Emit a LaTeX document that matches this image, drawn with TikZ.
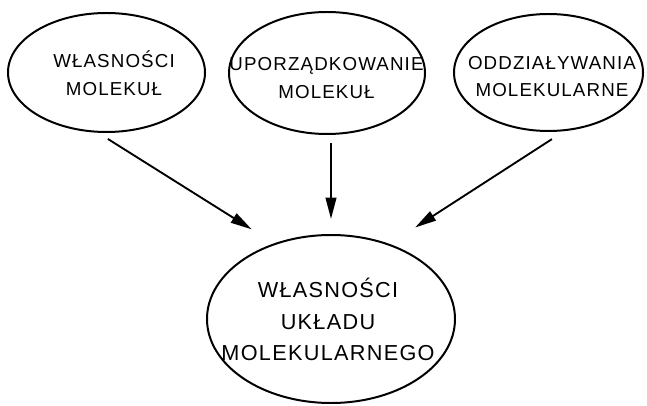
\documentclass[tikz,border=0pt]{standalone}
\usepackage{fontspec}
\setmainfont{Liberation Sans}[LetterSpace=6]
\usetikzlibrary{shapes.geometric,arrows.meta}

\begin{document}
\begin{tikzpicture}[
	blob/.style={draw, ellipse, line width=1.7pt, inner sep=0},
	word/.style={align=center, font=\fontsize{16}{23.5}\selectfont},
	bigword/.style={align=center, font=\fontsize{18.5}{27}\selectfont},
	arr/.style={line width=1.6pt, -{Triangle[length=0.64cm, width=0.32cm]}}]
	\useasboundingbox (0,0) rectangle (19.41,12.15);
	\node[blob, minimum width=5.91cm, minimum height=3.57cm] (e1) at (3.195,9.975) {};
	\node[blob, minimum width=5.88cm, minimum height=3.66cm] (e2) at (9.81,9.96) {};
	\node[blob, minimum width=5.67cm, minimum height=3.51cm] (e3) at (16.455,9.975) {};
	\node[blob, minimum width=7.44cm, minimum height=5.04cm] (bot) at (9.93,2.58) {};
	\node[word] (e1t) at (3.42,9.95) {WŁASNOŚCI\\MOLEKUŁ};
	\node[word] (e2t) at (9.795,9.81) {UPORZĄDKOWANIE\\MOLEKUŁ};
	\node[word] (e3t) at (16.56,9.85) {ODDZIAŁYWANIA\\MOLEKULARNE};
	\node[bigword] (bott) at (9.84,2.56) {WŁASNOŚCI\\UKŁADU\\MOLEKULARNEGO};
	\path[arr] (e1.262) edge[shorten <=0.35cm, shorten >=0.79cm] (bot.127);
	\path[arr] (e2.south -| bot.north) edge[shorten <=0.23cm, shorten >=0.45cm] (bot.north);
	\path[arr] (e3.285) edge[shorten <=0.44cm, shorten >=0.91cm] (bot.52);
\end{tikzpicture}
\end{document}
